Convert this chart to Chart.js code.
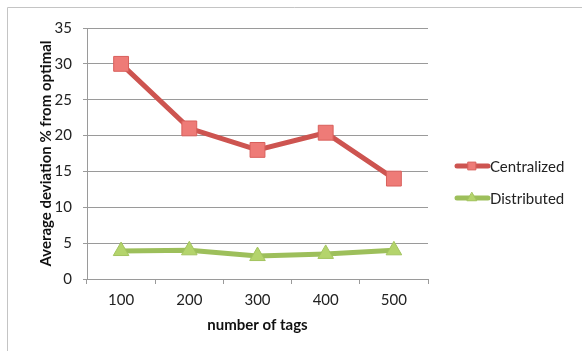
<!DOCTYPE html>
<html>
<head>
<meta charset="utf-8">
<script src="https://cdn.jsdelivr.net/npm/chart.js@4/dist/chart.umd.min.js"></script>
<style>
  html, body { margin: 0; padding: 0; background: #fff; }
  #wrap { width: 582px; height: 351px; position: relative; }
</style>
</head>
<body>
<div id="wrap"><canvas id="myChart"></canvas></div>
<script>
// Data
const tagCounts = ['100', '200', '300', '400', '500'];
const centralized = [30, 21, 18, 20.4, 14];
const distributed = [3.9, 4.0, 3.2, 3.5, 4.0];
const yTicks = [0, 5, 10, 15, 20, 25, 30, 35];

const FONT = 'Lato, "Open Sans", sans-serif';

// outer frame, cut off at right and bottom like the original screenshot
const framePlugin = {
  id: 'frame',
  beforeDraw(chart) {
    const ctx = chart.ctx;
    ctx.save();
    ctx.strokeStyle = '#c4c4c4';
    ctx.lineWidth = 1;
    ctx.beginPath();
    ctx.moveTo(7.5, 351);
    ctx.lineTo(7.5, 7.5);
    ctx.lineTo(582, 7.5);
    ctx.stroke();
    ctx.restore();
  }
};

// legend drawn as line + marker + label, the way Excel does it
const legendPlugin = {
  id: 'sideLegend',
  afterDraw(chart) {
    const ctx = chart.ctx;
    const rows = [166, 198];
    chart.data.datasets.forEach((ds, i) => {
      const y = rows[i];
      ctx.save();
      ctx.strokeStyle = ds.borderColor;
      ctx.lineWidth = 5;
      ctx.lineCap = 'round';
      ctx.beginPath();
      ctx.moveTo(457, y);
      ctx.lineTo(488, y);
      ctx.stroke();
      ctx.fillStyle = ds.pointBackgroundColor;
      ctx.strokeStyle = ds.pointBorderColor;
      ctx.lineWidth = 1;
      Chart.helpers.drawPoint(ctx, { pointStyle: ds.pointStyle, radius: 5.5, borderWidth: 1 }, 472, y);
      ctx.fillStyle = '#222';
      ctx.font = '15px ' + FONT;
      ctx.textBaseline = 'middle';
      ctx.textAlign = 'left';
      ctx.fillText(ds.label, 490, y + 1);
      ctx.restore();
    });
  }
};

function drawGraph() {
  const ctx = document.getElementById('myChart').getContext('2d');
  new Chart(ctx, {
    type: 'line',
    data: {
      labels: tagCounts,
      datasets: [{
        label: 'Centralized',
        data: centralized,
        borderColor: '#cd5450',
        borderWidth: 5,
        pointStyle: 'rect',
        pointRadius: 10.5,
        pointBackgroundColor: '#ee7b77',
        pointBorderColor: '#d9605c',
        pointBorderWidth: 1,
        fill: false
      }, {
        label: 'Distributed',
        data: distributed,
        borderColor: '#9dbf5b',
        borderWidth: 5,
        pointStyle: 'triangle',
        pointRadius: 9,
        pointBackgroundColor: '#b4d46c',
        pointBorderColor: '#a3c45f',
        pointBorderWidth: 1,
        fill: false
      }]
    },
    options: {
      responsive: true,
      maintainAspectRatio: false,
      animation: false,
      events: [],
      layout: { padding: { left: 33, top: 28, right: 154, bottom: 13 } },
      plugins: {
        legend: { display: false },
        tooltip: { enabled: false }
      },
      scales: {
        x: {
          offset: true,
          grid: {
            offset: true,
            drawOnChartArea: false,
            color: '#9a9a9a',
            tickLength: 5
          },
          border: { color: '#9a9a9a' },
          ticks: {
            color: '#222',
            font: { family: FONT, size: 15 },
            padding: 7
          },
          title: {
            display: true,
            text: 'number of tags',
            color: '#111',
            font: { family: FONT, size: 15, weight: 'bold' },
            padding: { top: 0 }
          }
        },
        y: {
          min: 0,
          max: 35,
          afterFit(scale) { scale.width = 54; },
          afterBuildTicks(scale) { scale.ticks = yTicks.map(v => ({ value: v })); },
          grid: {
            color: '#9a9a9a',
            tickLength: 4
          },
          border: { color: '#9a9a9a' },
          ticks: {
            color: '#222',
            font: { family: FONT, size: 15 },
            padding: 11
          },
          title: {
            display: true,
            text: 'Average deviation % from optimal',
            color: '#111',
            font: { family: FONT, size: 15, weight: 'bold' },
            padding: 4
          }
        }
      }
    },
    plugins: [framePlugin, legendPlugin]
  });
}

drawGraph();
</script>
</body>
</html>
